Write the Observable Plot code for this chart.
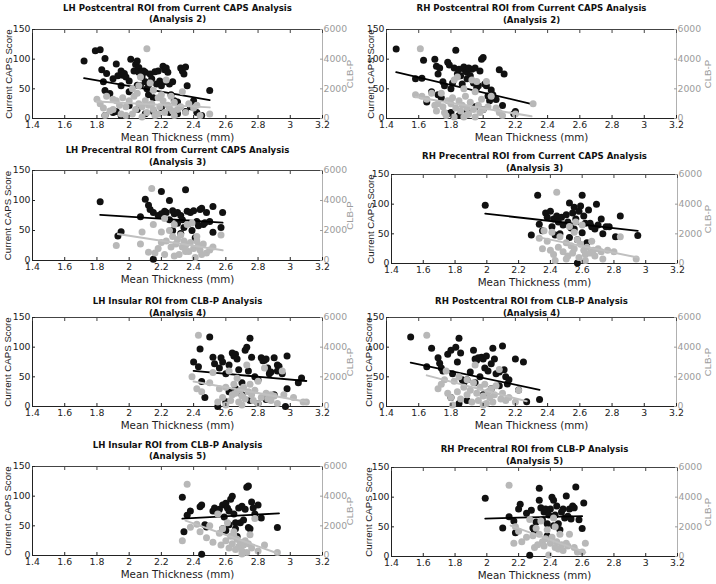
<!DOCTYPE html>
<html><head><meta charset="utf-8">
<script src="https://cdn.jsdelivr.net/npm/d3@7"></script>
<script src="https://cdn.jsdelivr.net/npm/@observablehq/plot@0.6"></script>
<style>
body{margin:0;background:#fff;}
#wrap{position:relative;width:716px;height:584px;overflow:hidden;background:#fff;}
#wrap svg{position:absolute;}
</style></head><body><div id="wrap"></div>
<script>
// ---- shared axis data ----
const xTicks = [1.4, 1.6, 1.8, 2, 2.2, 2.4, 2.6, 2.8, 3, 3.2];
const capsTicks = [0, 50, 100, 150];
const clbTicks = [0, 2000, 4000, 6000];
const capsMax = 150, clbMax = 6000;
const xLabel = "Mean Thickness (mm)";
const capsLabel = "Current CAPS Score";
const clbLabel = "CLB-P";

const titles = [
  "LH Postcentral ROI from Current CAPS Analysis\n(Analysis 2)",
  "RH Postcentral ROI from Current CAPS Analysis\n(Analysis 2)",
  "LH Precentral ROI from Current CAPS Analysis\n(Analysis 3)",
  "RH Precentral ROI from Current CAPS Analysis\n(Analysis 3)",
  "LH Insular ROI from CLB-P Analysis\n(Analysis 4)",
  "RH Postcentral ROI from CLB-P Analysis\n(Analysis 4)",
  "LH Insular ROI from CLB-P Analysis\n(Analysis 5)",
  "RH Precentral ROI from CLB-P Analysis\n(Analysis 5)"
];

// ---- panel 1: LH Postcentral (Analysis 2) ----
const caps1 = [[1.72,97],[1.79,114],[1.82,116],[1.83,82],[1.85,101],[1.86,76],[1.84,62],[1.85,47],[1.88,42],[1.9,67],[1.92,92],[1.93,72],[1.95,80],[1.96,73],[1.97,76],[1.98,70],[2.0,63],[2.01,100],[2.03,80],[2.04,91],[2.05,97],[2.06,86],[2.06,78],[2.07,55],[2.08,70],[2.09,80],[2.1,78],[2.1,62],[2.11,50],[2.12,40],[2.13,75],[2.14,67],[2.15,35],[2.16,79],[2.17,58],[2.18,80],[2.19,63],[2.2,55],[2.21,88],[2.22,82],[2.23,85],[2.24,78],[2.25,58],[2.26,40],[2.27,62],[2.28,30],[2.3,28],[2.32,85],[2.33,80],[2.34,75],[2.35,87],[2.36,55],[2.38,20],[2.4,30],[2.42,10],[2.45,5],[2.5,47],[1.9,10],[1.92,12],[1.95,5],[1.85,5],[2.0,22],[2.05,15],[2.1,8],[2.15,12],[2.2,18],[2.25,10],[2.3,8],[2.35,12],[2.0,45],[2.05,56],[1.95,55],[2.12,57],[2.22,62]];
const clb1 = [[2.11,4700],[1.8,1300],[1.82,1000],[1.86,1500],[1.84,700],[1.85,200],[1.88,500],[1.9,1300],[1.92,1200],[1.94,900],[1.95,300],[1.96,1400],[1.98,800],[2.0,1200],[2.02,2000],[2.03,1500],[2.04,600],[2.05,1700],[2.06,1000],[2.07,2800],[2.08,800],[2.1,1200],[2.11,400],[2.12,900],[2.13,2400],[2.14,1000],[2.15,600],[2.16,200],[2.18,1400],[2.19,800],[2.2,1600],[2.21,1200],[2.22,400],[2.23,2600],[2.24,900],[2.25,700],[2.26,1500],[2.27,500],[2.28,1100],[2.3,600],[2.32,800],[2.33,1800],[2.35,400],[2.37,1000],[2.4,700],[2.42,900],[2.44,200],[2.5,300],[1.98,200],[2.02,300],[2.08,100],[2.18,300],[2.28,200],[1.9,600],[2.06,2200],[2.15,1900]];
const capsFit1 = [[1.72,68],[2.5,31]];
const clbFit1 = [[1.8,1150],[2.5,750]];

// ---- panel 2: RH Postcentral (Analysis 2) ----
const caps2 = [[1.46,117],[1.58,67],[1.62,68],[1.63,98],[1.65,28],[1.7,100],[1.71,88],[1.72,75],[1.73,85],[1.75,62],[1.74,35],[1.76,55],[1.78,95],[1.79,90],[1.8,50],[1.81,60],[1.82,85],[1.83,115],[1.84,75],[1.85,83],[1.86,72],[1.87,58],[1.88,87],[1.89,80],[1.9,67],[1.9,78],[1.91,85],[1.92,72],[1.93,83],[1.94,60],[1.95,85],[1.96,52],[1.97,55],[1.98,80],[1.99,100],[2.0,103],[2.01,58],[2.02,55],[2.03,38],[2.04,30],[2.05,48],[2.06,40],[2.08,32],[2.1,82],[2.12,22],[2.13,75],[2.2,12],[2.19,8],[1.8,10],[1.78,8],[1.85,5],[1.9,12],[1.95,20],[2.0,15],[1.72,40],[1.68,45]];
const clb2 = [[1.61,4700],[1.58,1600],[1.62,1500],[1.65,1300],[1.68,1700],[1.7,900],[1.71,500],[1.72,1000],[1.74,1700],[1.75,800],[1.76,400],[1.78,1200],[1.8,1000],[1.81,1400],[1.82,2600],[1.83,700],[1.84,2800],[1.85,1200],[1.86,500],[1.87,900],[1.88,2000],[1.89,1500],[1.9,700],[1.91,300],[1.92,1100],[1.93,2600],[1.94,600],[1.95,1800],[1.96,2500],[1.97,900],[1.98,400],[1.99,1300],[2.0,600],[2.02,2500],[2.03,800],[2.05,1500],[2.08,700],[2.1,400],[2.12,200],[2.2,300],[2.31,1000],[1.77,200],[1.82,100],[1.88,100],[1.95,100],[1.9,250]];
const capsFit2 = [[1.46,78],[2.31,24]];
const clbFit2 = [[1.58,1450],[2.3,150]];

// ---- panel 3: LH Precentral (Analysis 3) ----
const caps3 = [[1.82,98],[1.93,41],[1.95,48],[2.07,73],[2.1,102],[2.12,92],[2.13,85],[2.15,2],[2.15,80],[2.18,75],[2.2,115],[2.22,82],[2.23,80],[2.25,100],[2.27,83],[2.28,78],[2.3,62],[2.3,80],[2.32,75],[2.33,68],[2.34,55],[2.35,118],[2.36,82],[2.37,62],[2.38,80],[2.39,50],[2.4,83],[2.41,38],[2.42,65],[2.43,58],[2.44,85],[2.45,87],[2.46,60],[2.47,63],[2.48,80],[2.5,65],[2.52,90],[2.52,47],[2.57,55],[2.58,80],[2.27,50],[2.32,45],[2.25,68],[2.2,78]];
const clb3 = [[2.14,4800],[1.92,1000],[2.07,1100],[2.08,1900],[2.12,550],[2.15,2400],[2.18,800],[2.2,1200],[2.22,2800],[2.23,1300],[2.25,2000],[2.26,900],[2.27,1600],[2.28,2400],[2.29,1100],[2.3,1400],[2.31,400],[2.32,1700],[2.33,900],[2.34,1300],[2.35,1000],[2.36,2400],[2.37,600],[2.38,1200],[2.39,2500],[2.4,800],[2.41,200],[2.42,1600],[2.43,1000],[2.44,700],[2.45,400],[2.46,1100],[2.48,500],[2.5,700],[2.52,900],[2.57,1700],[2.16,500],[2.22,400],[2.28,300],[2.35,600],[2.2,1900],[2.42,1300]];
const capsFit3 = [[1.82,76],[2.58,63]];
const clbFit3 = [[1.93,1760],[2.58,680]];

// ---- panel 4: RH Precentral (Analysis 3) ----
const caps4 = [[1.99,98],[2.28,48],[2.32,115],[2.33,66],[2.35,55],[2.37,85],[2.38,78],[2.4,88],[2.41,62],[2.42,75],[2.43,48],[2.44,80],[2.45,70],[2.47,78],[2.48,65],[2.5,82],[2.51,70],[2.52,102],[2.53,60],[2.54,85],[2.55,95],[2.56,75],[2.57,40],[2.57,1],[2.58,88],[2.59,97],[2.6,115],[2.61,80],[2.62,68],[2.63,35],[2.64,90],[2.65,68],[2.66,62],[2.68,58],[2.69,100],[2.7,65],[2.72,75],[2.73,50],[2.75,62],[2.77,62],[2.81,45],[2.84,80],[2.95,47],[2.46,50],[2.52,44],[2.55,58],[2.6,52]];
const clb4 = [[2.44,4800],[2.33,1700],[2.35,1000],[2.36,2200],[2.38,1500],[2.4,900],[2.41,2100],[2.42,600],[2.43,200],[2.45,1100],[2.46,1800],[2.48,800],[2.5,1400],[2.51,500],[2.52,2500],[2.53,1200],[2.54,700],[2.55,1000],[2.56,2800],[2.57,1600],[2.58,400],[2.59,1300],[2.6,2600],[2.61,900],[2.62,600],[2.63,1100],[2.65,700],[2.66,1500],[2.67,900],[2.68,500],[2.7,1000],[2.72,800],[2.73,300],[2.76,900],[2.8,800],[2.84,1800],[2.94,300],[2.55,2100],[2.62,200],[2.5,300]];
const capsFit4 = [[1.99,84],[2.95,55]];
const clbFit4 = [[2.33,1760],[2.95,400]];

// ---- panel 5: LH Insular (Analysis 4) ----
const caps5 = [[2.4,75],[2.43,67],[2.44,97],[2.45,42],[2.47,15],[2.5,117],[2.52,83],[2.53,72],[2.55,0],[2.56,65],[2.57,82],[2.58,75],[2.6,55],[2.62,70],[2.64,90],[2.65,85],[2.66,88],[2.67,80],[2.68,62],[2.7,40],[2.72,95],[2.73,100],[2.74,60],[2.75,115],[2.76,83],[2.78,50],[2.8,45],[2.82,82],[2.83,77],[2.84,78],[2.85,80],[2.86,65],[2.87,55],[2.88,58],[2.9,82],[2.92,70],[2.93,68],[2.95,55],[2.97,0],[2.98,85],[3.05,40],[3.07,48],[2.98,30],[2.7,20],[2.75,10],[2.8,5],[2.85,12],[2.9,20],[2.62,25],[2.66,30],[2.92,60],[2.6,8]];
const clb5 = [[2.43,4800],[2.39,2000],[2.42,1200],[2.45,1000],[2.5,1600],[2.52,2300],[2.55,300],[2.56,1200],[2.58,600],[2.6,1300],[2.62,2400],[2.63,400],[2.64,800],[2.65,1500],[2.66,900],[2.67,1900],[2.68,300],[2.69,1100],[2.7,700],[2.71,1300],[2.72,500],[2.73,2800],[2.74,1000],[2.75,1500],[2.76,800],[2.77,400],[2.78,1100],[2.8,1700],[2.82,600],[2.84,2600],[2.85,900],[2.86,500],[2.88,800],[2.9,700],[2.92,200],[2.95,2400],[3.02,600],[3.08,300],[3.1,300],[2.6,100],[2.7,100],[2.8,200],[2.88,400],[2.96,800]];
const capsFit5 = [[2.4,60],[3.1,43]];
const clbFit5 = [[2.4,1680],[3.1,320]];

// ---- panel 6: RH Postcentral (Analysis 4) ----
const caps6 = [[1.55,117],[1.65,67],[1.68,98],[1.72,82],[1.73,73],[1.74,65],[1.75,60],[1.78,88],[1.8,95],[1.81,55],[1.83,100],[1.84,75],[1.85,115],[1.86,90],[1.87,45],[1.88,40],[1.9,45],[1.92,58],[1.94,95],[1.95,80],[1.96,78],[1.97,82],[1.98,50],[1.99,83],[2.0,80],[2.01,65],[2.02,85],[2.03,60],[2.05,72],[2.06,98],[2.07,80],[2.08,55],[2.1,58],[2.12,102],[2.13,62],[2.14,50],[2.15,38],[2.16,45],[2.2,80],[2.22,28],[2.25,75],[2.27,8],[2.35,12],[1.8,15],[1.85,5],[1.9,10],[2.0,20],[2.05,30],[1.95,40],[2.1,35]];
const clb6 = [[1.65,4800],[1.72,1200],[1.74,1500],[1.77,2400],[1.78,900],[1.8,600],[1.81,100],[1.82,1700],[1.84,1000],[1.85,2000],[1.86,500],[1.88,1300],[1.9,800],[1.92,1100],[1.93,300],[1.94,1600],[1.95,2800],[1.96,900],[1.97,400],[1.98,1300],[2.0,700],[2.01,1500],[2.02,200],[2.03,1000],[2.04,600],[2.05,1200],[2.06,300],[2.07,800],[2.08,1400],[2.1,2500],[2.11,500],[2.12,900],[2.14,400],[2.16,600],[2.2,300],[2.22,1100],[1.76,1800],[1.9,1800],[2.0,100]];
const capsFit6 = [[1.55,74],[2.35,28]];
const clbFit6 = [[1.65,2100],[2.27,350]];

// ---- panel 7: LH Insular (Analysis 5) ----
const caps7 = [[2.33,98],[2.34,40],[2.36,68],[2.38,75],[2.44,82],[2.45,85],[2.45,2],[2.47,52],[2.48,48],[2.52,75],[2.53,80],[2.55,72],[2.56,78],[2.58,85],[2.59,65],[2.6,88],[2.61,80],[2.62,75],[2.63,95],[2.64,100],[2.65,70],[2.66,45],[2.67,32],[2.68,80],[2.69,55],[2.7,83],[2.71,60],[2.72,78],[2.73,115],[2.74,117],[2.74,47],[2.75,45],[2.76,90],[2.77,80],[2.78,70],[2.8,85],[2.82,63],[2.92,47],[2.58,45],[2.62,52],[2.66,55],[2.6,42]];
const clb7 = [[2.36,4800],[2.33,1000],[2.38,1900],[2.42,2100],[2.44,1600],[2.48,1200],[2.5,2000],[2.52,900],[2.55,2800],[2.56,1500],[2.57,700],[2.58,1800],[2.6,1000],[2.61,2200],[2.62,500],[2.63,1300],[2.64,800],[2.65,1600],[2.66,400],[2.67,1100],[2.68,600],[2.69,900],[2.7,300],[2.71,700],[2.72,1000],[2.73,200],[2.74,800],[2.75,1400],[2.76,500],[2.78,2500],[2.8,300],[2.84,700],[2.92,200],[2.7,100],[2.65,1300]];
const capsFit7 = [[2.33,62],[2.93,71]];
const clbFit7 = [[2.35,2350],[2.92,150]];

// ---- panel 8: RH Precentral (Analysis 5) ----
const caps8 = [[1.99,98],[2.1,48],[2.14,67],[2.17,60],[2.18,40],[2.2,80],[2.21,88],[2.25,73],[2.27,2],[2.28,78],[2.29,48],[2.3,42],[2.31,58],[2.33,115],[2.33,95],[2.34,82],[2.35,62],[2.36,75],[2.37,80],[2.38,55],[2.39,70],[2.4,80],[2.41,100],[2.42,95],[2.43,70],[2.44,85],[2.45,55],[2.46,45],[2.47,75],[2.48,80],[2.49,65],[2.5,102],[2.51,68],[2.52,80],[2.53,63],[2.54,85],[2.55,82],[2.56,117],[2.58,62],[2.6,47],[2.61,90],[2.42,52],[2.38,35]];
const clb8 = [[2.14,4800],[2.17,900],[2.18,2000],[2.2,1700],[2.22,1000],[2.25,1300],[2.27,2500],[2.29,1400],[2.3,600],[2.31,1900],[2.32,800],[2.33,1500],[2.34,2400],[2.35,1000],[2.36,700],[2.37,1200],[2.38,1800],[2.39,100],[2.4,900],[2.41,1300],[2.42,2600],[2.43,600],[2.44,1000],[2.45,500],[2.46,1500],[2.47,800],[2.48,400],[2.5,900],[2.51,700],[2.52,1500],[2.55,600],[2.57,300],[2.6,300],[2.62,900],[2.43,2000]];
const capsFit8 = [[1.99,64],[2.6,68]];
const clbFit8 = [[2.15,2080],[2.62,280]];

const capsSets = [caps1, caps2, caps3, caps4, caps5, caps6, caps7, caps8];
const clbSets = [clb1, clb2, clb3, clb4, clb5, clb6, clb7, clb8];
const capsFits = [capsFit1, capsFit2, capsFit3, capsFit4, capsFit5, capsFit6, capsFit7, capsFit8];
const clbFits = [clbFit1, clbFit2, clbFit3, clbFit4, clbFit5, clbFit6, clbFit7, clbFit8];

// ---- layout (pixels) ----
const layout = [
  {left:0,   top:0,   mL:32, mR:36, mT:29, mB:28, yl:8,  td:-16.5},
  {left:358, top:0,   mL:28, mR:40, mT:29, mB:28, yl:12, td:-16},
  {left:0,   top:146, mL:32, mR:36, mT:24, mB:32, yl:7,  td:-15},
  {left:358, top:146, mL:33, mR:39, mT:28, mB:29, yl:12, td:-13.3},
  {left:0,   top:292, mL:32, mR:36, mT:25, mB:32, yl:7,  td:-11},
  {left:358, top:292, mL:28, mR:40, mT:25, mB:32, yl:10, td:-11.2},
  {left:0,   top:438, mL:32, mR:36, mT:28, mB:29, yl:7,  td:-16.7},
  {left:358, top:438, mL:33, mR:39, mT:29, mB:28, yl:10, td:-13.2}
];

const ratio = capsMax / clbMax;
const HFONT = "'DejaVu Sans', Verdana, sans-serif";
const VFONT = "'Liberation Sans', Arial, Helvetica, sans-serif";
const BLACK = "#111", GRAY = "#b8b8b8", GRAYTXT = "#9c9c9c", GRAYAX = "#b0b0b0";
const wrap = document.getElementById("wrap");

for (let i = 0; i < 8; i++) {
  const L = layout[i];
  const W = 358, H = 146;
  const frameW = W - L.mL - L.mR;
  const svg = Plot.plot({
    width: W, height: H,
    marginLeft: L.mL, marginRight: L.mR, marginTop: L.mT, marginBottom: L.mB,
    style: {fontFamily: HFONT, fontSize: "9.3px", background: "transparent", overflow: "visible", color: "#222"},
    x: {domain: [xTicks[0], xTicks[xTicks.length - 1]]},
    y: {domain: [capsTicks[0], capsMax]},
    marks: [
      // box
      Plot.ruleY([capsTicks[0]], {stroke: "#222", strokeWidth: 1}),
      Plot.ruleY([capsMax], {stroke: "#444", strokeWidth: 1}),
      Plot.ruleX([xTicks[0]], {stroke: "#222", strokeWidth: 1}),
      Plot.ruleX([xTicks[xTicks.length - 1]], {stroke: GRAYAX, strokeWidth: 1}),
      // CAPS series
      Plot.dot(capsSets[i], {x: d => d[0], y: d => d[1], r: 3.5, fill: BLACK, stroke: null}),
      Plot.line(capsFits[i], {x: d => d[0], y: d => d[1], stroke: "#000", strokeWidth: 1.8}),
      // CLB-P series (right axis)
      Plot.dot(clbSets[i], {x: d => d[0], y: d => d[1] * ratio, r: 3.5, fill: GRAY, stroke: null}),
      Plot.line(clbFits[i], {x: d => d[0], y: d => d[1] * ratio, stroke: "#c0c0c0", strokeWidth: 2}),
      // axes
      Plot.axisX({anchor: "bottom", ticks: xTicks, tickSize: -3, tickPadding: 6, tickFormat: d => String(d), label: null, color: "#222"}),
      Plot.axisX({anchor: "top", ticks: xTicks, tickSize: -3, tickFormat: () => "", label: null, color: "#444"}),
      Plot.axisY({anchor: "left", ticks: capsTicks, tickSize: -3, tickPadding: 5, tickFormat: d => String(d), label: null, color: "#222"}),
      Plot.axisY({anchor: "right", ticks: clbTicks.map(v => v * ratio), tickSize: -3, tickPadding: 4, tickFormat: d => String(Math.round(d / ratio)), label: null, color: GRAYTXT}),
      // labels
      Plot.text([titles[i]], {text: d => d, frameAnchor: "top", dy: L.td, lineAnchor: "middle", lineHeight: 1.33, fontWeight: "bold", fontSize: 8.6, fontFamily: HFONT, fill: "#111"}),
      Plot.text([xLabel], {text: d => d, frameAnchor: "bottom", dy: 19, lineAnchor: "middle", fontSize: 10.3, fontFamily: HFONT, fill: "#222"}),
      Plot.text([capsLabel], {text: d => d, frameAnchor: "left", textAnchor: "middle", dx: L.yl - L.mL, rotate: -90, lineAnchor: "middle", fontSize: 9.7, fontFamily: VFONT, fill: "#222"}),
      Plot.text([clbLabel], {text: d => d, frameAnchor: "right", textAnchor: "middle", dx: 349 - (L.mL + frameW), rotate: -90, lineAnchor: "middle", fontSize: 9.7, fontFamily: VFONT, fill: GRAYTXT})
    ]
  });
  svg.style.left = L.left + "px";
  svg.style.top = L.top + "px";
  wrap.appendChild(svg);
}
</script>
</body></html>
